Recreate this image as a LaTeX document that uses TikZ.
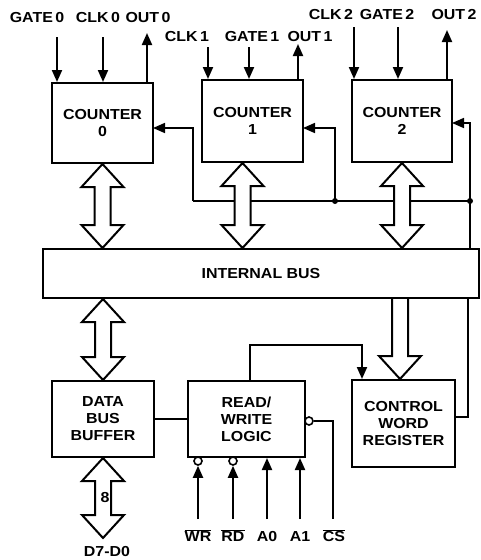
\documentclass[tikz,border=0pt]{standalone}
\usepackage{fontspec}
\setmainfont{Liberation Sans}[FakeStretch=1.1]
\usetikzlibrary{arrows.meta,calc}

\newcommand\busarrow[2]{%
	\draw[hollow] let \p1=(#1), \p2=(#2) in
		(\x1,\y1) -- (\x1+21pt,\y1-23pt) -- (\x1+8pt,\y1-23pt) -- (\x1+8pt,\y2+23pt)
		-- (\x1+21pt,\y2+23pt) -- (\x1,\y2) -- (\x1-21pt,\y2+23pt) -- (\x1-8pt,\y2+23pt)
		-- (\x1-8pt,\y1-23pt) -- (\x1-21pt,\y1-23pt) -- cycle;}
\newcommand\busdown[2]{%
	\draw[hollow] let \p1=(#1), \p2=(#2) in
		(\x1-8pt,\y1) -- (\x1-8pt,\y2+23pt) -- (\x1-21pt,\y2+23pt) -- (\x1,\y2)
		-- (\x1+21pt,\y2+23pt) -- (\x1+8pt,\y2+23pt) -- (\x1+8pt,\y1);}

\begin{document}
\begin{tikzpicture}[x=1pt,y=-1pt,
				line width=2pt,
				>={Triangle[width=10pt,length=12pt]},
				every node/.style={ text=black, inner sep=0pt,
						font=\bfseries\fontsize{14.5}{17}\selectfont },
				block/.style={ draw, fill=white, align=center },
				lbl/.style={ font=\bfseries\fontsize{14.5}{16}\selectfont },
				bubble/.style={ draw, circle, fill=white, line width=1.6pt, minimum size=8pt },
				thin/.style={ line width=1.6pt },
				hollow/.style={ fill=white, line width=2pt, line join=miter } ]

			\useasboundingbox (0,0) rectangle (481,560);

			% counters
			\node[block, minimum width=101pt, minimum height=80pt] (c0) at (102.5,123) {COUNTER\\0};
			\node[block, minimum width=101pt, minimum height=82pt] (c1) at (252.5,121) {COUNTER\\1};
			\node[block, minimum width=100pt, minimum height=82pt] (c2) at (402,121) {COUNTER\\2};

			\node[block, minimum width=436pt, minimum height=49pt] (bus) at (261,273.5) {INTERNAL BUS};

			\node[block, minimum width=102pt, minimum height=76pt] (dbb) at (103,419) {DATA\\BUS\\BUFFER};
			\node[block, minimum width=117pt, minimum height=76pt] (rwl) at (246.5,419) {READ/\\WRITE\\LOGIC};
			\node[block, minimum width=103pt, minimum height=87pt] (cwr) at (403.5,423.5) {CONTROL\\WORD\\REGISTER};

			% pin labels
			\node[lbl] (lg0) at (37,18) {GATE\,0};
			\node[lbl] (lc0) at (98,18) {CLK\,0};
			\node[lbl] (lo0) at (148,18) {OUT\,0};
			\node[lbl] (lc1) at (187,37) {CLK\,1};
			\node[lbl] (lg1) at (252,37) {GATE\,1};
			\node[lbl] (lo1) at (310,37) {OUT\,1};
			\node[lbl] (lc2) at (331,15) {CLK\,2};
			\node[lbl] (lg2) at (387,15) {GATE\,2};
			\node[lbl] (lo2) at (454,15) {OUT\,2};

			\node[lbl] (lwr) at (198,536) {$\overline{\mbox{WR}}$};
			\node[lbl] (lrd) at (233,536) {$\overline{\mbox{RD}}$};
			\node[lbl] (la0) at (267,537) {A0};
			\node[lbl] (la1) at (300,537) {A1};
			\node[lbl] (lcs) at (334,536) {$\overline{\mbox{CS}}$};
			\node[lbl] (ld) at (107,552) {D7-D0};

			\coordinate (g0) at (57,37);
			\coordinate (k0) at (103,37);
			\coordinate (o0) at (147,33);
			\coordinate (k1) at (208,47);
			\coordinate (g1) at (249,47);
			\coordinate (o1) at (298,44);
			\coordinate (k2) at (354,27);
			\coordinate (g2) at (398,27);
			\coordinate (o2) at (447,30);

			\draw[->] (g0) -- (g0 |- c0.north);
			\draw[->] (k0) -- (k0 |- c0.north);
			\draw[->] (o0 |- c0.north) -- (o0);
			\draw[->] (k1) -- (k1 |- c1.north);
			\draw[->] (g1) -- (g1 |- c1.north);
			\draw[->] (o1 |- c1.north) -- (o1);
			\draw[->] (k2) -- (k2 |- c2.north);
			\draw[->] (g2) -- (g2 |- c2.north);
			\draw[->] (o2 |- c2.north) -- (o2);

			% control lines to the counters
			\coordinate (t0) at (193,201);
			\coordinate (j1) at (335,201);
			\coordinate (j2) at (470,201);
			\coordinate (f0) at (153,128);
			\coordinate (f1) at (303,128);
			\coordinate (f2) at (452,123);
			\coordinate (r2) at (468,417);

			\draw[thin] (t0) -- (j2);
			\draw[thin,->] (t0) |- (f0);
			\draw[thin,->] (j1) |- (f1);
			\draw[thin,->] (j2) |- (f2);
			\draw[thin] (j2) -- (j2 |- bus.north);
			\draw[thin] (r2 |- bus.south) -- (r2) -- (r2 -| cwr.east);
			\fill (j1) circle (3pt);
			\fill (j2) circle (3pt);

			\busarrow{c0.south}{bus.north -| c0.south}
			\busarrow{[xshift=-10pt]c1.south}{bus.north -| 242,0}
			\busarrow{c2.south}{bus.north -| c2.south}
			\busarrow{bus.south -| dbb.north}{dbb.north}
			\coordinate (d0) at (103,538);
			\busarrow{dbb.south}{d0}
			\node[lbl] (l8) at (105,498) {8};
			\busdown{bus.south -| 400,0}{cwr.north -| 400,0}

			% read/write logic
			\draw (dbb) -- (rwl);
			\coordinate (w1) at (250,345);
			\coordinate (w2) at (362,345);
			\draw[->] (w1 |- rwl.north) -- (w1) -- (w2) -- (w2 |- cwr.north);

			\node[bubble] (wrb) at (198,461) {};
			\node[bubble] (rdb) at (233,461) {};
			\node[bubble] (csb) at (309,421) {};
			\coordinate (wr) at (198,519);
			\coordinate (rd) at (233,519);
			\coordinate (a0) at (267,519);
			\coordinate (a1) at (300,519);
			\coordinate (cs) at (333,519);

			\draw[->] (wr) -- (wrb);
			\draw[->] (rd) -- (rdb);
			\draw[->] (a0) -- (a0 |- rwl.south);
			\draw[->] (a1) -- (a1 |- rwl.south);
			\draw (csb) -| (cs);
		\end{tikzpicture}
\end{document}
